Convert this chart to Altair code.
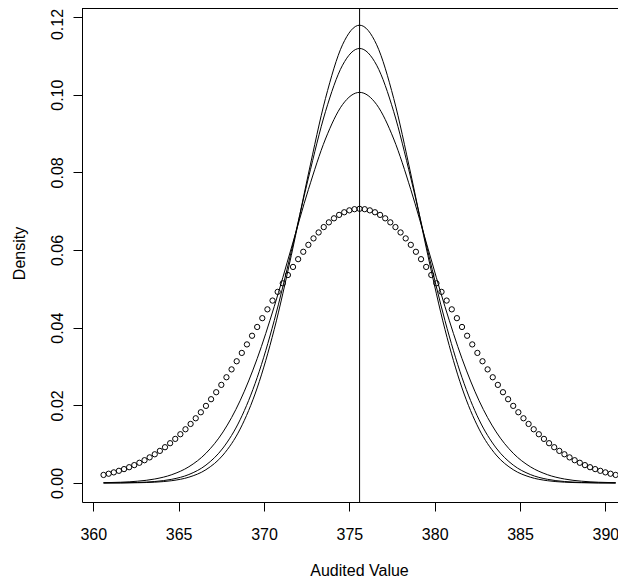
import altair as alt
import pandas as pd

# x positions of the open circles (audited values)
circle_x = [360.6, 360.9, 361.2, 361.5, 361.8, 362.1, 362.4, 362.7, 363.0, 363.3,
            363.6, 363.9, 364.2, 364.5, 364.8, 365.1, 365.4, 365.7, 366.0, 366.3,
            366.6, 366.9, 367.2, 367.5, 367.8, 368.1, 368.4, 368.7, 369.0, 369.3,
            369.6, 369.9, 370.2, 370.5, 370.8, 371.1, 371.4, 371.7, 372.0, 372.3,
            372.6, 372.9, 373.2, 373.5, 373.8, 374.1, 374.4, 374.7, 375.0, 375.3,
            375.6,
            375.9, 376.2, 376.5, 376.8, 377.1, 377.4, 377.7, 378.0, 378.3, 378.6,
            378.9, 379.2, 379.5, 379.8, 380.1, 380.4, 380.7, 381.0, 381.3, 381.6,
            381.9, 382.2, 382.5, 382.8, 383.1, 383.4, 383.7, 384.0, 384.3, 384.6,
            384.9, 385.2, 385.5, 385.8, 386.1, 386.4, 386.7, 387.0, 387.3, 387.6,
            387.9, 388.2, 388.5, 388.8, 389.1, 389.4, 389.7, 390.0, 390.3, 390.6]
circle_y = [0.00208, 0.00239, 0.00274, 0.00314, 0.00358, 0.00407, 0.00461, 0.00521, 0.00587, 0.00660,
            0.00740, 0.00827, 0.00922, 0.01025, 0.01136, 0.01256, 0.01384, 0.01521, 0.01667, 0.01822,
            0.01986, 0.02158, 0.02338, 0.02527, 0.02723, 0.02926, 0.03135, 0.03350, 0.03569, 0.03792,
            0.04018, 0.04245, 0.04472, 0.04698, 0.04922, 0.05142, 0.05356, 0.05564, 0.05764, 0.05954,
            0.06133, 0.06299, 0.06452, 0.06590, 0.06712, 0.06816, 0.06904, 0.06972, 0.07021, 0.07051,
            0.07061,
            0.07051, 0.07021, 0.06972, 0.06904, 0.06816, 0.06712, 0.06590, 0.06452, 0.06299, 0.06133,
            0.05954, 0.05764, 0.05564, 0.05356, 0.05142, 0.04922, 0.04698, 0.04472, 0.04245, 0.04018,
            0.03792, 0.03569, 0.03350, 0.03135, 0.02926, 0.02723, 0.02527, 0.02338, 0.02158, 0.01986,
            0.01822, 0.01667, 0.01521, 0.01384, 0.01256, 0.01136, 0.01025, 0.00922, 0.00827, 0.00740,
            0.00660, 0.00587, 0.00521, 0.00461, 0.00407, 0.00358, 0.00314, 0.00274, 0.00239, 0.00208]

# x positions of the three density curves
line_x = [360.6, 361.6, 362.6, 363.6, 364.6, 365.6, 366.6, 367.6, 368.6, 369.6,
          370.6, 371.6, 372.6, 373.6, 374.6, 375.6, 376.6, 377.6, 378.6, 379.6,
          380.6, 381.6, 382.6, 383.6, 384.6, 385.6, 386.6, 387.6, 388.6, 389.6, 390.6]
line_a = [0.0000064, 0.0000226, 0.0000736, 0.000219, 0.000599, 0.00150, 0.00343, 0.00721,
          0.01388, 0.02448, 0.03957, 0.05862, 0.07958, 0.09900, 0.11285, 0.11789,
          0.11285, 0.09900, 0.07958, 0.05862, 0.03957, 0.02448, 0.01388, 0.00721,
          0.00343, 0.00150, 0.000599, 0.000219, 0.0000736, 0.0000226, 0.0000064]
line_b = [0.000016, 0.0000501, 0.000145, 0.000388, 0.000959, 0.00219, 0.00462, 0.00902,
          0.01628, 0.02715, 0.04185, 0.05963, 0.07853, 0.09561, 0.10758, 0.11190,
          0.10758, 0.09561, 0.07853, 0.05963, 0.04185, 0.02715, 0.01628, 0.00902,
          0.00462, 0.00219, 0.000959, 0.000388, 0.000145, 0.0000501, 0.000016]
line_c = [0.0000787, 0.000198, 0.000467, 0.00103, 0.00215, 0.00419, 0.00766, 0.01315,
          0.02119, 0.03203, 0.04544, 0.06049, 0.07556, 0.08858, 0.09744, 0.10059,
          0.09744, 0.08858, 0.07556, 0.06049, 0.04544, 0.03203, 0.02119, 0.01315,
          0.00766, 0.00419, 0.00215, 0.00103, 0.000467, 0.000198, 0.0000787]
mean_value = [375.6]

x_ticks = [360, 365, 370, 375, 380, 385, 390]
y_ticks = [0.00, 0.02, 0.04, 0.06, 0.08, 0.10, 0.12]

circles = pd.DataFrame({"x": circle_x, "y": circle_y})
lines = pd.concat([
    pd.DataFrame({"x": line_x, "y": line_a, "s": "a"}),
    pd.DataFrame({"x": line_x, "y": line_b, "s": "b"}),
    pd.DataFrame({"x": line_x, "y": line_c, "s": "c"}),
])
vline = pd.DataFrame({"x": mean_value})

W, H = 536, 494
FONT = "Liberation Sans"

xscale = alt.Scale(domain=[359.338, 390.738], nice=False, zero=False)
yscale = alt.Scale(domain=[-0.00489, 0.122317], nice=False, zero=False)

xaxis = alt.Axis(values=x_ticks, title="Audited Value", grid=False, tickSize=9,
                 labelBaseline="alphabetic", labelPadding=28, labelFontSize=16,
                 labelFont=FONT, labelColor="black", tickColor="black",
                 domainColor="black", titleFont=FONT, titleFontSize=16,
                 titleFontWeight="normal", titleColor="black",
                 titleX=277, titleY=73, titleBaseline="alphabetic",
                 titleAlign="center", format="d", labelFlush=False)
yaxis = alt.Axis(values=y_ticks, title="Density", grid=False, tickSize=9,
                 labelAngle=270, labelAlign="center", labelBaseline="alphabetic",
                 labelPadding=11, labelFontSize=16, labelFont=FONT,
                 labelOffset={"condition": {"test": "datum.value > 0.11", "value": 7}, "value": 0},
                 labelColor="black", tickColor="black", domainColor="black",
                 titleFont=FONT, titleFontSize=16, titleFontWeight="normal",
                 titleColor="black", titleAngle=270, titleX=-58, titleY=245,
                 titleBaseline="alphabetic", titleAlign="center",
                 format=".2f", labelFlush=False)

pts = alt.Chart(circles).mark_point(shape="circle", filled=False, size=28,
                                    color="black", strokeWidth=1, opacity=1).encode(
    x=alt.X("x:Q", scale=xscale, axis=xaxis),
    y=alt.Y("y:Q", scale=yscale, axis=yaxis),
)

curves = alt.Chart(lines).mark_line(color="black", strokeWidth=1,
                                    interpolate="monotone").encode(
    x=alt.X("x:Q", scale=xscale),
    y=alt.Y("y:Q", scale=yscale),
    detail="s:N",
)

mean_rule = alt.Chart(vline).mark_rule(color="black", strokeWidth=1).encode(
    x=alt.X("x:Q", scale=xscale),
)

top_border = alt.Chart(vline).mark_rule(color="black", strokeWidth=1).encode(
    x=alt.value(0), x2=alt.value(W), y=alt.value(0.5),
)

chart = alt.layer(curves, pts, mean_rule, top_border).properties(
    width=W, height=H,
    autosize=alt.AutoSizeParams(type="none"),
    padding={"left": 74, "top": 0, "right": 0, "bottom": 76},
    background="white",
).configure_view(strokeWidth=0).configure_axis(domainWidth=1, tickWidth=1)

chart.save("out.html", embed_options={"renderer": "svg", "actions": False})
